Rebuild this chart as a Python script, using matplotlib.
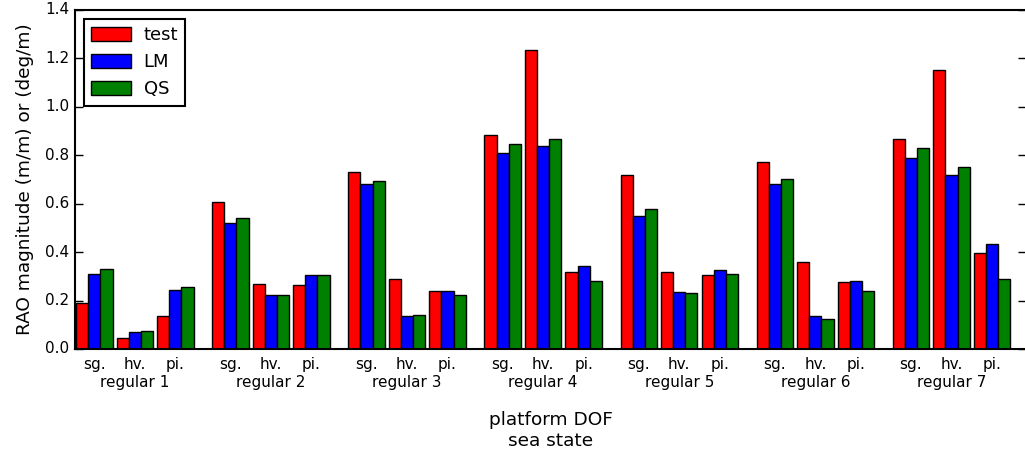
import numpy as np
import matplotlib
matplotlib.use('Agg')
import matplotlib.pyplot as plt

sea_states = ['regular 1', 'regular 2', 'regular 3', 'regular 4',
              'regular 5', 'regular 6', 'regular 7']
dofs = ['sg.', 'hv.', 'pi.']

# RAO values per sea state, ordered sg., hv., pi.
test = [[0.191, 0.044, 0.136],
        [0.606, 0.270, 0.265],
        [0.731, 0.288, 0.239],
        [0.885, 1.236, 0.318],
        [0.719, 0.319, 0.307],
        [0.774, 0.361, 0.277],
        [0.869, 1.153, 0.398]]
lm = [[0.310, 0.069, 0.243],
      [0.519, 0.221, 0.307],
      [0.681, 0.137, 0.241],
      [0.808, 0.837, 0.342],
      [0.549, 0.236, 0.326],
      [0.683, 0.136, 0.281],
      [0.789, 0.718, 0.434]]
qs = [[0.329, 0.073, 0.256],
      [0.541, 0.221, 0.305],
      [0.694, 0.142, 0.222],
      [0.845, 0.867, 0.280],
      [0.580, 0.231, 0.310],
      [0.701, 0.124, 0.239],
      [0.830, 0.753, 0.289]]


def main():
    plt.style.use('classic')
    fig = plt.figure(figsize=(10.25, 4.54), dpi=100)
    ax = fig.add_axes([0.0732, 0.2313, 0.9278, 0.7467])

    width = 0.3
    dof_step = 1.0
    state_step = 3.36
    ticks = []
    labels = []
    state_ticks = []
    for i, state in enumerate(sea_states):
        for j, dof in enumerate(dofs):
            x0 = i * state_step + j * dof_step
            ax.bar(x0, test[i][j], width, align='edge', color='#ff0000',
                   edgecolor='k', label='test' if i + j == 0 else None)
            ax.bar(x0 + width, lm[i][j], width, align='edge', color='#0000ff',
                   edgecolor='k', label='LM' if i + j == 0 else None)
            ax.bar(x0 + 2 * width, qs[i][j], width, align='edge',
                   color='#008000', edgecolor='k',
                   label='QS' if i + j == 0 else None)
            ticks.append(x0 + 1.5 * width)
            labels.append(dof)
        state_ticks.append(i * state_step + dof_step + 1.5 * width)

    # sea state labels sit on minor ticks that share the hv. positions
    ax.xaxis.remove_overlapping_locs = False
    ax.set_xticks(ticks)
    ax.set_xticklabels(labels, fontsize=11)
    ax.set_xticks(state_ticks, minor=True)
    ax.set_xticklabels(sea_states, minor=True, fontsize=11)
    ax.tick_params(axis='x', which='major', length=0, pad=6)
    ax.tick_params(axis='x', which='minor', length=0, pad=19)
    ax.tick_params(axis='y', labelsize=11, length=6, width=1)
    for sp in ax.spines.values():
        sp.set_linewidth(1.5)

    ax.set_xlim(-0.025, 23.45)
    ax.set_ylim(0, 1.4)
    ax.set_yticks(np.arange(0, 1.41, 0.2))
    ax.set_ylabel('RAO magnitude (m/m) or (deg/m)', fontsize=13.3,
                  labelpad=8)
    ax.set_xlabel('platform DOF\nsea state', fontsize=13.3, labelpad=15)
    leg = ax.legend(loc='upper left', fontsize=13, handlelength=2.2,
                    handleheight=0.8, handletextpad=0.7,
                    borderaxespad=0.5)
    leg.get_frame().set_linewidth(1.5)

    fig.savefig('out.png', dpi=100)


if __name__ == '__main__':
    main()
